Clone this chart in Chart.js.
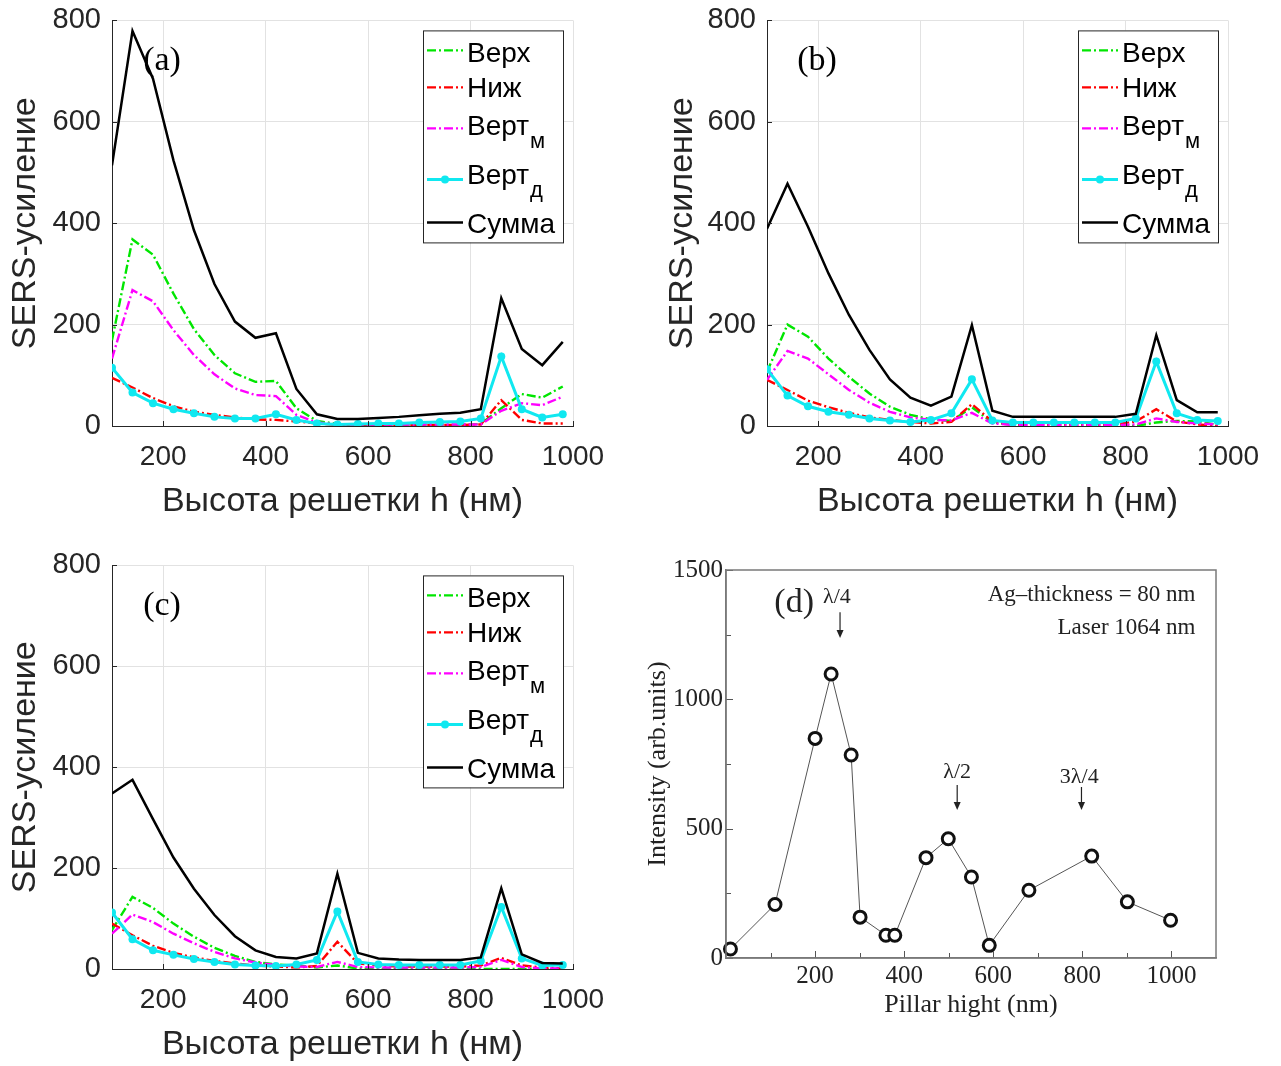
<!DOCTYPE html>
<html lang="ru">
<head>
<meta charset="UTF-8"/>
<title>SERS-усиление и высота решетки</title>
<script src="https://cdn.jsdelivr.net/npm/chart.js"></script>
<style>
  body { margin:0; background:#fff; width:1281px; height:1066px; position:relative; overflow:hidden; }
  .panel { position:absolute; }
</style>
</head>
<body>
<div class="panel" style="left:0;top:-8px;width:620px;height:548px"><canvas id="chA"></canvas></div>
<div class="panel" style="left:640px;top:-8px;width:641px;height:548px"><canvas id="chB"></canvas></div>
<div class="panel" style="left:0;top:537px;width:620px;height:529px"><canvas id="chC"></canvas></div>
<div class="panel" style="left:620px;top:545px;width:661px;height:521px"><canvas id="chD"></canvas></div>

<script>
  const sansFont = '"Liberation Sans", Arial, sans-serif';
  const serifFont = '"Liberation Serif", "Times New Roman", serif';

  // grating height (nm), shared by panels a-c
  const hValues = [100,140,180,220,260,300,340,380,420,460,500,540,580,620,660,700,740,780,820,860,900,940,980];

  // (a)
  const verhA  = [169,368,338,261,191,140,104,87,89,35,10,4,2,2,2,2,2,2,4,35,63,56,78];
  const nizA   = [95,76,55,39,28,22,17,13,12,9,5,2,2,2,2,2,2,2,3,51,12,5,5];
  const vertMA = [133,268,246,189,140,102,74,61,59,22,7,3,3,3,3,3,3,3,3,30,45,41,58];
  const vertDA = [115,66,45,33,25,18,15,15,23,12,5,3,4,5,5,7,8,9,15,137,33,17,23];
  const sumA   = [514,779,685,524,386,280,206,174,183,73,23,14,14,16,18,21,24,26,33,252,152,120,166];

  // (b)
  const verhB  = [107,200,176,133,97,64,38,22,13,10,37,7,2,2,2,2,2,2,0,7,10,9,2];
  const nizB   = [91,71,50,37,26,17,12,8,5,8,43,9,3,3,3,3,3,3,9,33,9,3,0];
  const vertMB = [91,148,133,102,71,46,28,17,12,11,26,5,2,2,2,2,2,2,3,15,8,5,3];
  const vertDB = [112,60,39,28,22,15,11,8,12,25,92,11,7,7,7,7,7,7,15,127,25,12,10];
  const sumB   = [389,478,393,301,219,150,92,56,40,58,199,30,18,18,18,18,18,18,24,179,51,27,27];

  // (c)
  const verhC  = [77,143,121,90,64,42,26,14,9,7,3,7,1,0,0,0,0,0,0,0,0,0,0];
  const nizC   = [90,67,46,32,23,16,11,7,5,3,6,54,11,7,5,5,5,5,7,22,7,3,1];
  const vertMC = [70,108,93,70,51,34,21,13,8,5,4,14,4,3,3,3,3,3,4,18,4,1,1];
  const vertDC = [112,59,37,28,20,14,9,7,6,9,18,114,14,9,8,8,8,8,16,123,21,7,8];
  const sumC   = [348,375,297,221,159,107,65,37,24,21,31,189,32,21,19,18,18,18,23,160,29,12,11];

  // (d) measured intensity
  const pillarH   = [10,110,200,236,281,301,359,379,449,499,551,591,680,821,901,998];
  const intensity = [35,207,849,1098,785,158,88,88,388,461,313,49,262,394,217,146];

  const xTicksSERS = [200,400,600,800,1000];
  const yTicksSERS = [0,200,400,600,800];
  const xTicksD = [200,400,600,800,1000];
  const xMinorD = [100,300,500,700,900];
  const yTicksD = [0,500,1000,1500];
  const yMinorD = [250,750,1250];

  // (d) annotations: text, x, y (data units), size, align
  const notesD = [
    ['(d)', 153, 1372, 34, 'center'],
    ['λ/4', 249, 1395, 22, 'center'],
    ['λ/2', 519, 719, 22, 'center'],
    ['3λ/4', 793, 700, 22, 'center'],
    ['Ag–thickness = 80 nm', 1054, 1403, 23, 'right'],
    ['Laser 1064 nm', 1054, 1276, 23, 'right']
  ];
  const arrowsD = [[256,1337,1237],[519,669,572],[798,661,572]];

  // legend rows (px from legend box top): line y, text baseline
  const legLineY = [20,57,98,149,192];
  const legBaseY = [32,67,105,154,203];

  // legend box inside plot, MATLAB style
  const boxLegend = {
    id:'boxLegend',
    afterDraw(chart, args, o){
      if(!o.show) return;
      const {ctx, chartArea:a} = chart;
      const x0 = a.right - 150, y0 = a.top + 10, w = 140, h = 212;
      ctx.save();
      ctx.fillStyle = '#fff'; ctx.fillRect(x0, y0, w, h);
      ctx.strokeStyle = '#262626'; ctx.lineWidth = 1; ctx.strokeRect(x0+0.5, y0+0.5, w, h);
      chart.data.datasets.forEach((ds,i)=>{
        const ly = y0 + legLineY[i], by = y0 + legBaseY[i];
        ctx.setLineDash(ds.borderDash || []);
        ctx.strokeStyle = ds.borderColor; ctx.lineWidth = ds.borderWidth;
        ctx.beginPath(); ctx.moveTo(x0+4, ly); ctx.lineTo(x0+40, ly); ctx.stroke();
        ctx.setLineDash([]);
        if(ds.pointRadius > 0){
          ctx.fillStyle = ds.borderColor;
          ctx.beginPath(); ctx.arc(x0+22, ly, ds.pointRadius, 0, Math.PI*2); ctx.fill();
        }
        ctx.fillStyle = '#000'; ctx.textBaseline = 'alphabetic'; ctx.textAlign = 'left';
        ctx.font = '28px ' + sansFont;
        ctx.fillText(ds.label, x0+44, by);
        if(ds.sub){
          const tw = ctx.measureText(ds.label).width;
          ctx.font = '22px ' + sansFont;
          ctx.fillText(ds.sub, x0+45+tw, by+13);
        }
      });
      ctx.restore();
    }
  };

  // panel letter, inward ticks, frame, arrows and notes
  const extras = {
    id:'extras',
    afterDraw(chart, args, o){
      const {ctx, chartArea:a, scales:{x, y}} = chart;
      ctx.save();
      ctx.strokeStyle = o.tickColor || '#262626'; ctx.lineWidth = 1;
      const tick = (vals, len, axis) => vals.forEach(v=>{
        ctx.beginPath();
        if(axis === 'x'){ const p = Math.round(x.getPixelForValue(v))+0.5; ctx.moveTo(p, a.bottom); ctx.lineTo(p, a.bottom-len); }
        else { const p = Math.round(y.getPixelForValue(v))+0.5; ctx.moveTo(a.left, p); ctx.lineTo(a.left+len, p); }
        ctx.stroke();
      });
      tick(o.xt || [], o.len || 5, 'x'); tick(o.yt || [], o.len || 5, 'y');
      tick(o.xm || [], o.mlen || 3, 'x'); tick(o.ym || [], o.mlen || 3, 'y');
      if(o.frame){
        ctx.strokeStyle = '#7a7a7a'; ctx.lineWidth = 1.5;
        ctx.strokeRect(a.left, a.top, a.right-a.left, a.bottom-a.top);
      }
      if(o.letter){
        ctx.fillStyle = '#000'; ctx.font = '34px ' + serifFont;
        ctx.textAlign = 'center'; ctx.textBaseline = 'middle';
        ctx.fillText(o.letter, a.left+50, a.top+41);
      }
      if(o.notes){
        ctx.fillStyle = '#222';
        notesD.forEach(n=>{
          ctx.font = n[3] + 'px ' + serifFont;
          ctx.textAlign = n[4]; ctx.textBaseline = 'middle';
          ctx.fillText(n[0], x.getPixelForValue(n[1]), y.getPixelForValue(n[2]));
        });
        ctx.strokeStyle = '#222'; ctx.lineWidth = 1.2;
        arrowsD.forEach(ar=>{
          const px = x.getPixelForValue(ar[0]), y1 = y.getPixelForValue(ar[1]), y2 = y.getPixelForValue(ar[2]);
          ctx.beginPath(); ctx.moveTo(px, y1); ctx.lineTo(px, y2-6); ctx.stroke();
          ctx.beginPath(); ctx.moveTo(px-3.5, y2-8); ctx.lineTo(px+3.5, y2-8); ctx.lineTo(px, y2); ctx.closePath(); ctx.fill();
        });
      }
      ctx.restore();
    }
  };
  Chart.register(boxLegend, extras);

  const plainNum = v => String(v);

  function toPts(xs, ys){ return xs.map((v,i)=>({x:v, y:ys[i]})); }

  function sersSets(verh, niz, vm, vd, sum){
    const dd = [9,3,2,3];
    return [
      {label:'Верх', data:toPts(hValues, verh), borderColor:'#00e600', borderDash:dd, borderWidth:2.4, pointRadius:0, order:5},
      {label:'Ниж', data:toPts(hValues, niz), borderColor:'#ff0000', borderDash:dd, borderWidth:2.4, pointRadius:0, order:4},
      {label:'Верт', sub:'м', data:toPts(hValues, vm), borderColor:'#ff00ff', borderDash:dd, borderWidth:2.4, pointRadius:0, order:3},
      {label:'Верт', sub:'д', data:toPts(hValues, vd), borderColor:'#10e8f0', borderWidth:3, pointRadius:4, pointBackgroundColor:'#10e8f0', pointBorderWidth:0, order:2},
      {label:'Сумма', data:toPts(hValues, sum), borderColor:'#000', borderWidth:2.5, pointRadius:0, order:1}
    ];
  }

  function sersOptions(letter, yw, xh, pad, yTitlePad, xTitlePad){
    return {
      responsive:true, maintainAspectRatio:false, animation:false, events:[], devicePixelRatio:1,
      layout:{padding:pad, autoPadding:false},
      plugins:{legend:{display:false}, tooltip:{enabled:false},
        boxLegend:{show:true},
        extras:{letter:letter, xt:xTicksSERS, yt:yTicksSERS, len:5}},
      elements:{line:{tension:0}},
      scales:{
        x:{type:'linear', min:100, max:1000,
          afterBuildTicks:s=>{ s.ticks = xTicksSERS.map(v=>({value:v})); },
          afterFit:s=>{ s.height = xh; },
          grid:{color:'#e2e2e2', drawTicks:false},
          border:{color:'#262626'},
          ticks:{font:{family:sansFont, size:28}, color:'#262626', padding:14, autoSkip:false, maxRotation:0, callback:plainNum},
          title:{display:true, text:'Высота решетки h (нм)', color:'#262626', font:{family:sansFont, size:34}, padding:{top:0, bottom:xTitlePad}}},
        y:{type:'linear', min:0, max:800,
          afterBuildTicks:s=>{ s.ticks = yTicksSERS.map(v=>({value:v})); },
          afterFit:s=>{ s.width = yw; },
          grid:{color:'#e2e2e2', drawTicks:false},
          border:{color:'#262626'},
          ticks:{font:{family:sansFont, size:29}, color:'#262626', padding:11, callback:plainNum},
          title:{display:true, text:'SERS-усиление', color:'#262626', font:{family:sansFont, size:34}, padding:{top:yTitlePad, bottom:0}}}
      }
    };
  }

  new Chart(document.getElementById('chA'), {type:'line',
    data:{datasets:sersSets(verhA, nizA, vertMA, vertDA, sumA)},
    options:sersOptions('(a)', 112, 114, {top:20, right:47, bottom:0, left:0}, 5, 18)});

  new Chart(document.getElementById('chB'), {type:'line',
    data:{datasets:sersSets(verhB, nizB, vertMB, vertDB, sumB)},
    options:sersOptions('(b)', 127, 114, {top:20, right:53, bottom:0, left:0}, 22, 18)});

  new Chart(document.getElementById('chC'), {type:'line',
    data:{datasets:sersSets(verhC, nizC, vertMC, vertDC, sumC)},
    options:sersOptions('(c)', 112, 97, {top:18, right:47, bottom:0, left:0}, 5, 1)});

  new Chart(document.getElementById('chD'), {type:'line',
    data:{datasets:[{label:'Intensity', data:toPts(pillarH, intensity), borderColor:'#555', borderWidth:1,
      pointRadius:6, pointBorderWidth:3, pointBorderColor:'#111', pointBackgroundColor:'#fff', clip:false}]},
    options:{
      responsive:true, maintainAspectRatio:false, animation:false, events:[], devicePixelRatio:1,
      layout:{padding:{top:25, right:65, bottom:0, left:0}, autoPadding:false},
      plugins:{legend:{display:false}, tooltip:{enabled:false},
        boxLegend:{show:false},
        extras:{frame:true, notes:true, tickColor:'#555', xt:xTicksD, yt:yTicksD, xm:xMinorD, ym:yMinorD, len:7, mlen:5}},
      elements:{line:{tension:0}},
      scales:{
        x:{type:'linear', min:0, max:1100,
          afterBuildTicks:s=>{ s.ticks = xTicksD.map(v=>({value:v})); },
          afterFit:s=>{ s.height = 108; },
          grid:{display:false, drawTicks:false},
          border:{color:'#7a7a7a', width:1.5},
          ticks:{font:{family:serifFont, size:25}, color:'#222', padding:3, autoSkip:false, maxRotation:0, callback:plainNum},
          title:{display:true, text:'Pillar hight (nm)', color:'#222', font:{family:serifFont, size:26}, padding:{top:0, bottom:45}}},
        y:{type:'linear', min:0, max:1500,
          afterBuildTicks:s=>{ s.ticks = yTicksD.map(v=>({value:v})); },
          afterFit:s=>{ s.width = 106; },
          grid:{display:false, drawTicks:false},
          border:{color:'#7a7a7a', width:1.5},
          ticks:{font:{family:serifFont, size:25}, color:'#222', padding:3, callback:plainNum},
          title:{display:true, text:'Intensity (arb.units)', color:'#222', font:{family:serifFont, size:26}, padding:{top:23, bottom:0}}}
      }
    }});
</script>
</body>
</html>
